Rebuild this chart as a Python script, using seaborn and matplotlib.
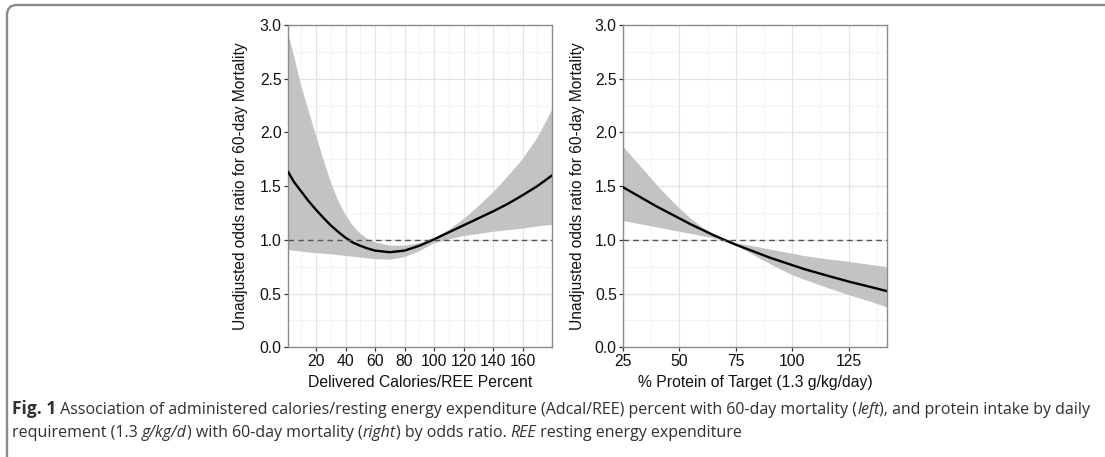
import numpy as np
import pandas as pd
import matplotlib
matplotlib.use('Agg')
import matplotlib.pyplot as plt
import matplotlib.transforms as mtrans
from matplotlib.patches import FancyBboxPatch
import seaborn as sns

# left panel: delivered calories / REE percent
cal_x = [1, 5, 10, 15, 20, 25, 30, 35, 40, 45, 50, 55, 60, 70, 80, 90, 100,
         110, 120, 130, 140, 150, 160, 170, 180]
cal_or = [1.635, 1.54, 1.45, 1.36, 1.28, 1.205, 1.135, 1.075, 1.02, 0.975, 0.945, 0.92, 0.90,
          0.885, 0.90, 0.945, 1.005, 1.07, 1.135, 1.20, 1.265, 1.335, 1.415, 1.50, 1.60]
cal_lo = [0.91, 0.903, 0.895, 0.887, 0.88, 0.875, 0.87, 0.862, 0.855, 0.848, 0.84, 0.832, 0.825,
          0.82, 0.845, 0.90, 0.975, 1.01, 1.04, 1.06, 1.08, 1.095, 1.11, 1.13, 1.145]
cal_hi = [2.92, 2.70, 2.42, 2.19, 1.96, 1.74, 1.53, 1.36, 1.23, 1.13, 1.06, 1.01, 0.98,
          0.95, 0.95, 0.975, 1.02, 1.10, 1.20, 1.32, 1.45, 1.60, 1.76, 1.96, 2.22]

# right panel: % protein of target
prot_x = [25, 30, 35, 40, 45, 50, 55, 60, 65, 70, 75, 80, 85, 90, 95, 100, 105, 115, 125, 135, 142]
prot_or = [1.49, 1.43, 1.37, 1.31, 1.255, 1.20, 1.145, 1.095, 1.045, 1.0, 0.955, 0.915, 0.875,
           0.835, 0.80, 0.765, 0.73, 0.67, 0.612, 0.56, 0.523]
prot_lo = [1.18, 1.16, 1.14, 1.12, 1.10, 1.08, 1.06, 1.04, 1.02, 0.99, 0.95, 0.895, 0.835,
           0.78, 0.725, 0.675, 0.635, 0.56, 0.49, 0.425, 0.375]
prot_hi = [1.87, 1.75, 1.63, 1.51, 1.40, 1.295, 1.20, 1.12, 1.055, 1.01, 0.975, 0.955, 0.935,
           0.915, 0.895, 0.875, 0.855, 0.825, 0.80, 0.77, 0.75]

cal_ticks = [20, 40, 60, 80, 100, 120, 140, 160]
cal_minor = [10, 30, 50, 70, 90, 110, 130, 150, 170]
prot_ticks = [25, 50, 75, 100, 125]
prot_minor = [37.5, 62.5, 87.5, 112.5, 137.5]
or_ticks = [0.0, 0.5, 1.0, 1.5, 2.0, 2.5, 3.0]
or_minor = [0.25, 0.75, 1.25, 1.75, 2.25, 2.75]

ylab = 'Unadjusted odds ratio for 60-day Mortality'

sns.set_style('white')
plt.rcParams['font.family'] = ['Liberation Sans', 'DejaVu Sans']

W, H = 1105, 457
fig = plt.figure(figsize=(W / 100, H / 100), dpi=100)
fig.set_facecolor('white')

ax1 = fig.add_axes([288 / W, 1 - 347.3 / H, 264 / W, 322.3 / H])
ax2 = fig.add_axes([623 / W, 1 - 347.3 / H, 264 / W, 322.3 / H])

panels = [
    (ax1, cal_x, cal_or, cal_lo, cal_hi, (1, 180), cal_ticks, cal_minor, 'Delivered Calories/REE Percent'),
    (ax2, prot_x, prot_or, prot_lo, prot_hi, (25, 142), prot_ticks, prot_minor, '% Protein of Target (1.3 g/kg/day)'),
]

for ax, x, y, lo, hi, xlim, xt, xm, xlab in panels:
    df = pd.DataFrame({'x': x, 'or': y, 'lo': lo, 'hi': hi})
    ax.fill_between(df['x'], df['lo'], df['hi'], color='#c3c3c3', lw=0, zorder=2)
    sns.lineplot(data=df, x='x', y='or', ax=ax, color='black', lw=1.7, zorder=3)
    ax.axhline(1.0, color='#555555', ls=(0, (4, 3)), lw=1.0, zorder=4)

    ax.set_xlim(*xlim)
    ax.set_ylim(0, 3)
    ax.set_xticks(xt)
    ax.set_xticks(xm, minor=True)
    ax.set_yticks(or_ticks)
    ax.set_yticks(or_minor, minor=True)
    ax.set_yticklabels(['%.1f' % v for v in or_ticks])
    ax.grid(which='major', color='#e4e4e4', lw=0.9, zorder=0)
    ax.grid(which='minor', color='#f1f1f1', lw=0.6, zorder=0)
    ax.set_axisbelow(True)

    for s in ['top', 'bottom', 'left', 'right']:
        ax.spines[s].set_color('#8c8c8c')
        ax.spines[s].set_linewidth(1.0)
    ax.tick_params(which='major', length=3, width=0.9, color='#333333',
                   labelsize=11.3, labelcolor='#111111', pad=1.5, left=True, bottom=True)
    ax.tick_params(which='minor', length=0)

    ax.set_xlabel(xlab, fontsize=11.3, color='#111111')
    ax.set_ylabel(ylab, fontsize=11.2, color='#111111')
    ax.xaxis.set_label_coords(0.5, -0.085)

# y label anchor is the right edge of the rotated text
ax1.yaxis.set_label_coords(-0.152, 0.5)
ax2.yaxis.set_label_coords(-0.144, 0.5)

# rounded frame around the figure
frame = FancyBboxPatch((7, -25), 1300, 452 + 25, boxstyle='round,pad=0,rounding_size=10',
                       transform=mtrans.IdentityTransform(), facecolor='none',
                       edgecolor='#8a8a8a', lw=1.7)
fig.patches.append(frame)

# caption, written piece by piece
cap_font = ['Open Sans', 'DejaVu Sans']
cap_size = 11.5
renderer = fig.canvas.get_renderer()


def write_line(pieces, x0, y0):
    xpos = x0
    for s, style, weight in pieces:
        size = cap_size + (1.0 if weight == 'bold' else 0)
        t = fig.text(xpos / W, 1 - y0 / H, s, fontsize=size, fontstyle=style, fontweight=weight,
                     family=cap_font, color='#303030', ha='left', va='baseline')
        bb = t.get_window_extent(renderer)
        xpos = bb.x1


line1 = [('Fig. 1', 'normal', 'bold'),
         (' Association of administered calories/resting energy expenditure (Adcal/REE) percent with 60-day mortality (', 'normal', 'normal'),
         ('left', 'italic', 'normal'),
         ('), and protein intake by daily', 'normal', 'normal')]
line2 = [('requirement (1.3 ', 'normal', 'normal'),
         ('g/kg/d', 'italic', 'normal'),
         (') with 60-day mortality (', 'normal', 'normal'),
         ('right', 'italic', 'normal'),
         (') by odds ratio. ', 'normal', 'normal'),
         ('REE', 'italic', 'normal'),
         (' resting energy expenditure', 'normal', 'normal')]

write_line(line1, 12, 414)
write_line(line2, 12, 437)

fig.savefig('out.png', dpi=100, facecolor='white')
